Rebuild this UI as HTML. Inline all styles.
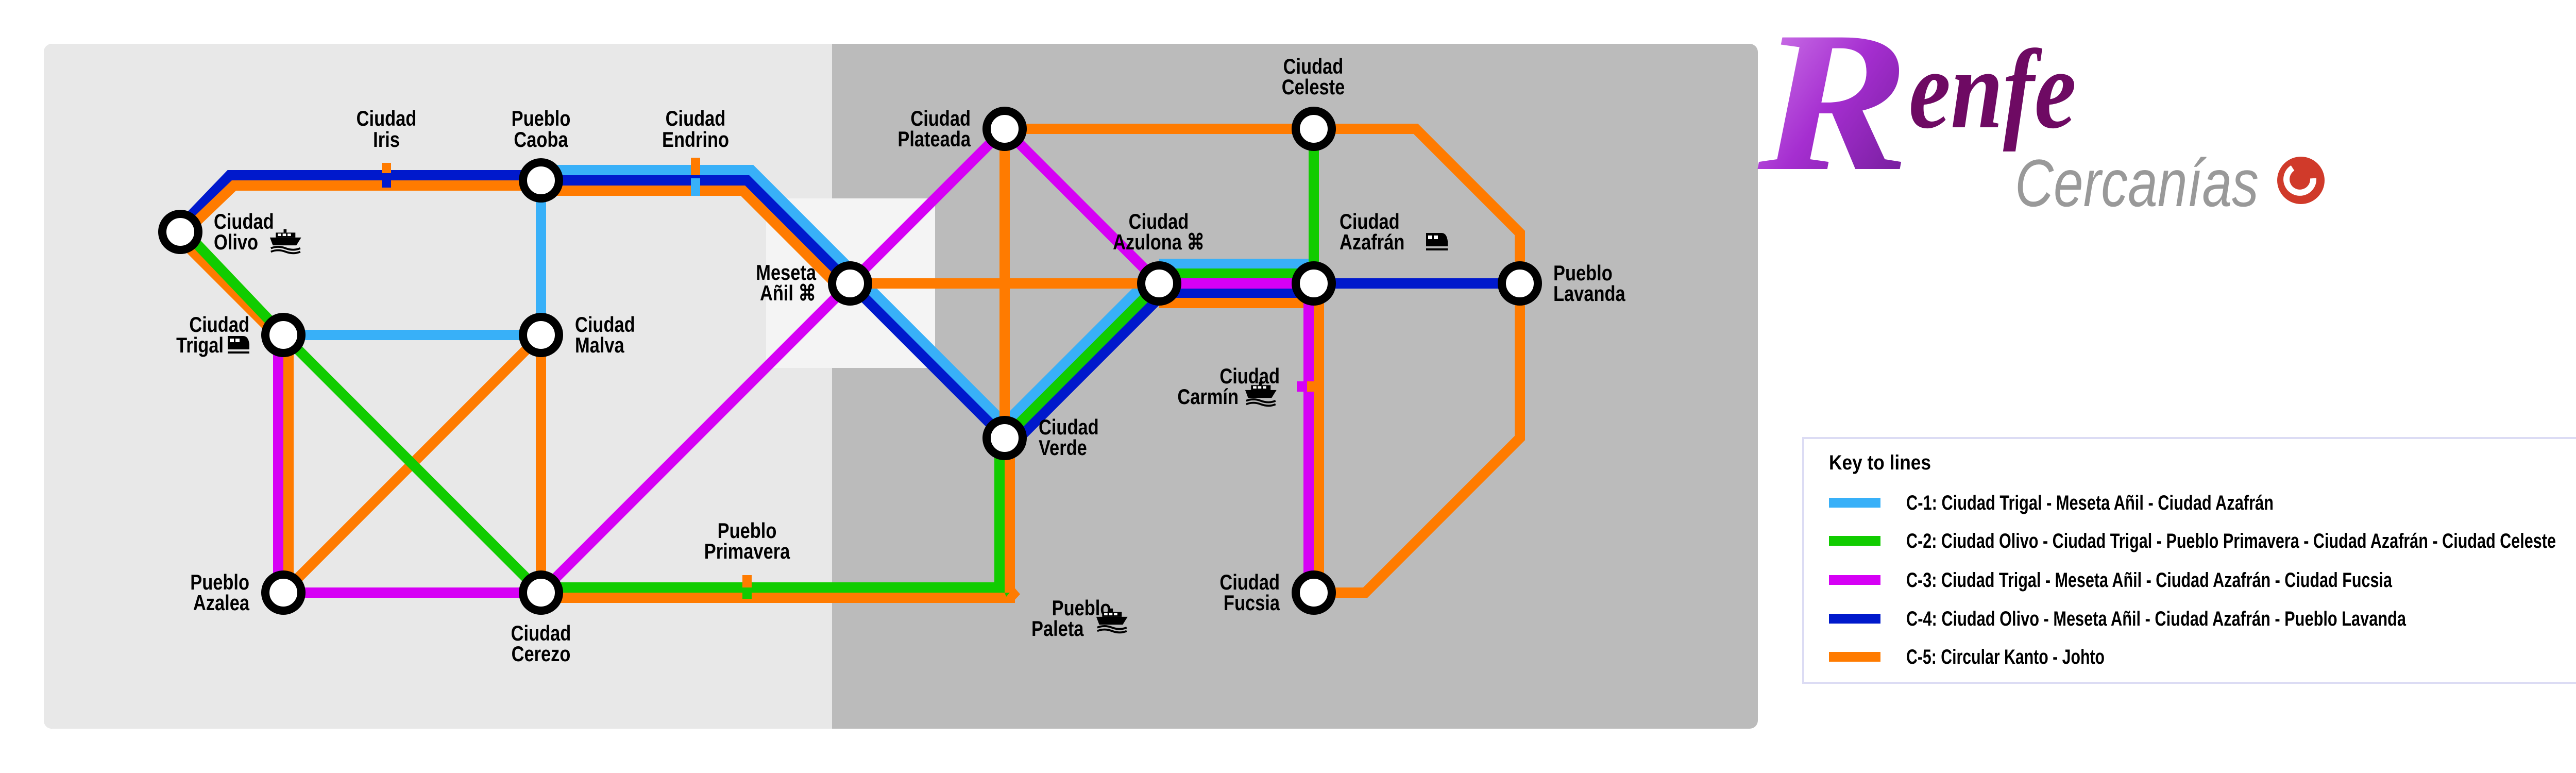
<!DOCTYPE html>
<html><head><meta charset="utf-8"><style>
html,body{margin:0;padding:0;background:#fff;width:5300px;height:1500px;overflow:hidden;}
svg{display:block;}
.t text,.k text{font-family:"Liberation Sans",sans-serif;font-weight:bold;fill:#000;}
.t text{font-size:42px;}
.k text{font-size:40px;}
</style></head><body>
<svg width="5300" height="1500" viewBox="0 0 5300 1500" xmlns="http://www.w3.org/2000/svg">
<defs>
<g id="ship"><path d="M2 22 L66 22 L56 38 L8 38 Z" fill="#000"/><rect x="14" y="12" width="40" height="10" fill="#000"/><rect x="18" y="14" width="7" height="5" fill="#fff"/><rect x="28" y="14" width="7" height="5" fill="#fff"/><rect x="38" y="14" width="7" height="5" fill="#fff"/><rect x="30" y="5" width="6" height="7" fill="#000"/><path d="M4 44 Q18 38 34 44 T64 44" stroke="#000" stroke-width="4" fill="none"/><path d="M4 51 Q18 45 34 51 T64 51" stroke="#000" stroke-width="4" fill="none"/></g>
<g id="train"><path d="M0 4 L30 4 Q40 4 42 20 L42 30 L0 30 Z" fill="#000"/><rect x="4" y="9" width="8" height="7" fill="#fff"/><rect x="15" y="9" width="8" height="7" fill="#fff"/><rect x="0" y="34" width="42" height="4" fill="#000"/></g>
<linearGradient id="pg" x1="0" y1="0" x2="1" y2="1"><stop offset="0" stop-color="#d98cf0"/><stop offset="0.5" stop-color="#a52ed0"/><stop offset="1" stop-color="#6a1a90"/></linearGradient>
</defs>
<rect x="85" y="85" width="3327" height="1329" rx="16" fill="#bbbbbb"/>
<rect x="85" y="85" width="1546" height="1329" rx="16" fill="#e8e8e8"/>
<rect x="1615" y="85" width="40" height="1329" fill="#bbbbbb"/>
<rect x="1487" y="385" width="328" height="329" fill="#f4f4f4"/>

<g fill="none" stroke-width="20" stroke-linejoin="miter">
<polyline stroke="#38b0f8" points="1050,330 1458,330 1972,844"/>
<line stroke="#38b0f8" x1="1050" y1="350" x2="1050" y2="650"/>
<line stroke="#38b0f8" x1="550" y1="650" x2="1050" y2="650"/>
<line stroke="#38b0f8" x1="2250" y1="512" x2="2550" y2="512"/>
<line stroke="#38b0f8" x1="2236" y1="536" x2="1936" y2="836"/>
<polyline stroke="#0019cc" points="345,445 446,340 1050,340 1050,350 1450,350 1950,850"/>
<line stroke="#0019cc" x1="2250" y1="569" x2="2550" y2="569"/>
<line stroke="#0019cc" x1="2264" y1="564" x2="1964" y2="864"/>
<line stroke="#0019cc" x1="2550" y1="550" x2="2950" y2="550"/>
<polyline stroke="#ff7b00" points="355,455 454,360 1050,360 1050,370 1442,370 1650,578"/>
<line stroke="#ff7b00" x1="343" y1="457" x2="560" y2="674"/>
<line stroke="#ff7b00" x1="560" y1="650" x2="560" y2="1150"/>
<line stroke="#ff7b00" x1="550" y1="1150" x2="1050" y2="650"/>
<line stroke="#ff7b00" x1="1050" y1="650" x2="1050" y2="1150"/>
<polyline stroke="#ff7b00" points="1050,1160 1950,1160"/>
<line stroke="#ff7b00" x1="1650" y1="550" x2="2250" y2="550"/>
<line stroke="#ff7b00" x1="1950" y1="250" x2="1950" y2="850"/>
<polyline stroke="#ff7b00" points="1950,250 2748,250 2950,452 2950,850 2650,1150 2550,1150"/>
<line stroke="#ff7b00" x1="2250" y1="588" x2="2550" y2="588"/>
<line stroke="#ff7b00" x1="2560" y1="578" x2="2560" y2="1150"/>
<line stroke="#ff7b00" x1="1960" y1="850" x2="1960" y2="1150"/>
<polyline stroke="#11cc00" points="355,445 550,650 1050,1150"/>
<polyline stroke="#11cc00" points="1050,1140 1940,1140 1940,850"/>
<line stroke="#11cc00" x1="2250" y1="531" x2="2550" y2="531"/>
<line stroke="#11cc00" x1="2250" y1="550" x2="1950" y2="850"/>
<line stroke="#11cc00" x1="2550" y1="250" x2="2550" y2="540"/>
<line stroke="#d600f5" x1="540" y1="650" x2="540" y2="1150"/>
<line stroke="#d600f5" x1="550" y1="1150" x2="1050" y2="1150"/>
<line stroke="#d600f5" x1="1050" y1="1150" x2="1950" y2="250"/>
<line stroke="#d600f5" x1="1950" y1="250" x2="2250" y2="550"/>
<line stroke="#d600f5" x1="2250" y1="550" x2="2550" y2="550"/>
<line stroke="#d600f5" x1="2540" y1="560" x2="2540" y2="1150"/>
</g>
<polygon points="1953,1153 1967,1138 1980,1153 1966,1168" fill="#ff7b00"/>
<rect x="1950" y="1150" width="20" height="20" fill="#ff7b00"/>
<polygon points="1950,1150 1960,1150 1953,1158" fill="#11cc00"/>
<rect x="741" y="316" width="18" height="20" fill="#ff7b00"/><rect x="741" y="336" width="18" height="28" fill="#0019cc"/>
<rect x="1341" y="306" width="18" height="34" fill="#ff7b00"/><rect x="1341" y="346" width="18" height="34" fill="#38b0f8"/>
<rect x="1441" y="1116" width="18" height="24" fill="#ff7b00"/><rect x="1441" y="1140" width="18" height="22" fill="#11cc00"/>
<rect x="2517" y="740" width="20" height="20" fill="#d600f5"/><rect x="2537" y="740" width="32" height="20" fill="#ff7b00"/>

<g fill="#fff" stroke="#000" stroke-width="16">
<circle cx="350" cy="450" r="35"/><circle cx="550" cy="650" r="35"/><circle cx="1050" cy="350" r="35"/>
<circle cx="1050" cy="650" r="35"/><circle cx="550" cy="1150" r="35"/><circle cx="1050" cy="1150" r="35"/>
<circle cx="1650" cy="550" r="35"/><circle cx="1950" cy="250" r="35"/><circle cx="2550" cy="250" r="35"/>
<circle cx="2250" cy="550" r="35"/><circle cx="2550" cy="550" r="35"/><circle cx="2950" cy="550" r="35"/>
<circle cx="1950" cy="850" r="35"/><circle cx="2550" cy="1150" r="35"/>
</g>

<g class="t">
<text transform="translate(750,244) scale(0.82,1)" text-anchor="middle">Ciudad</text><text transform="translate(750,285) scale(0.82,1)" text-anchor="middle">Iris</text>
<text transform="translate(1050,244) scale(0.82,1)" text-anchor="middle">Pueblo</text><text transform="translate(1050,285) scale(0.82,1)" text-anchor="middle">Caoba</text>
<text transform="translate(1350,244) scale(0.82,1)" text-anchor="middle">Ciudad</text><text transform="translate(1350,285) scale(0.82,1)" text-anchor="middle">Endrino</text>
<text transform="translate(415,444) scale(0.82,1)">Ciudad</text><text transform="translate(415,484) scale(0.82,1)">Olivo</text>
<text transform="translate(484,644) scale(0.82,1)" text-anchor="end">Ciudad</text><text transform="translate(434,684) scale(0.82,1)" text-anchor="end">Trigal</text>
<text transform="translate(1116,644) scale(0.82,1)">Ciudad</text><text transform="translate(1116,684) scale(0.82,1)">Malva</text>
<text transform="translate(484,1144) scale(0.82,1)" text-anchor="end">Pueblo</text><text transform="translate(484,1184) scale(0.82,1)" text-anchor="end">Azalea</text>
<text transform="translate(1050,1243) scale(0.82,1)" text-anchor="middle">Ciudad</text><text transform="translate(1050,1283) scale(0.82,1)" text-anchor="middle">Cerezo</text>
<text transform="translate(1450,1044) scale(0.82,1)" text-anchor="middle">Pueblo</text><text transform="translate(1450,1084) scale(0.82,1)" text-anchor="middle">Primavera</text>
<text transform="translate(1584,543) scale(0.82,1)" text-anchor="end">Meseta</text><text transform="translate(1584,583) scale(0.82,1)" text-anchor="end">Añil ⌘</text>
<text transform="translate(1884,244) scale(0.82,1)" text-anchor="end">Ciudad</text><text transform="translate(1884,284) scale(0.82,1)" text-anchor="end">Plateada</text>
<text transform="translate(2549,143) scale(0.82,1)" text-anchor="middle">Ciudad</text><text transform="translate(2549,183) scale(0.82,1)" text-anchor="middle">Celeste</text>
<text transform="translate(2249,444) scale(0.82,1)" text-anchor="middle">Ciudad</text><text transform="translate(2249,484) scale(0.82,1)" text-anchor="middle">Azulona ⌘</text>
<text transform="translate(2600,444) scale(0.82,1)">Ciudad</text><text transform="translate(2600,484) scale(0.82,1)">Azafrán</text>
<text transform="translate(3015,544) scale(0.82,1)">Pueblo</text><text transform="translate(3015,584) scale(0.82,1)">Lavanda</text>
<text transform="translate(2016,843) scale(0.82,1)">Ciudad</text><text transform="translate(2016,883) scale(0.82,1)">Verde</text>
<text transform="translate(2484,744) scale(0.82,1)" text-anchor="end">Ciudad</text><text transform="translate(2404,784) scale(0.82,1)" text-anchor="end">Carmín</text>
<text transform="translate(2099,1194) scale(0.82,1)" text-anchor="middle">Pueblo</text><text transform="translate(2002,1234) scale(0.82,1)">Paleta</text>
<text transform="translate(2484,1144) scale(0.82,1)" text-anchor="end">Ciudad</text><text transform="translate(2484,1184) scale(0.82,1)" text-anchor="end">Fucsia</text>
</g>
<use href="#ship" transform="translate(522,440) scale(0.95)"/>
<use href="#train" transform="translate(442,648)"/>
<use href="#train" transform="translate(2768,448)"/>
<use href="#ship" transform="translate(2415,736) scale(0.95)"/>
<use href="#ship" transform="translate(2126,1176) scale(0.95)"/>

<text x="3412" y="328" font-family="Liberation Serif,serif" font-weight="bold" font-style="italic" font-size="390" fill="url(#pg)" textLength="295" lengthAdjust="spacingAndGlyphs">R</text>
<text x="3705" y="247" font-family="Liberation Serif,serif" font-weight="bold" font-style="italic" font-size="220" fill="#6e0a63" textLength="325" lengthAdjust="spacingAndGlyphs">enfe</text>
<text x="3911" y="400" font-family="Liberation Sans,sans-serif" font-style="italic" font-size="130" fill="#999" textLength="473" lengthAdjust="spacingAndGlyphs">Cercanías</text>
<circle cx="4466" cy="350" r="46" fill="#d03a2a"/>
<path d="M4450 326 A26 26 0 1 0 4490 346" stroke="#fff" stroke-width="12" fill="none"/>
<circle cx="4466" cy="350" r="9" fill="#d03a2a"/>

<rect x="3500" y="850" width="1700" height="475" fill="#fff" stroke="#dcdcf4" stroke-width="4"/>
<g class="k">
<text x="3550" y="911" textLength="198" lengthAdjust="spacingAndGlyphs">Key to lines</text>
<text x="3700" y="989" textLength="713" lengthAdjust="spacingAndGlyphs">C-1: Ciudad Trigal - Meseta Añil - Ciudad Azafrán</text>
<text x="3700" y="1063" textLength="1261" lengthAdjust="spacingAndGlyphs">C-2: Ciudad Olivo - Ciudad Trigal - Pueblo Primavera - Ciudad Azafrán - Ciudad Celeste</text>
<text x="3700" y="1139" textLength="943" lengthAdjust="spacingAndGlyphs">C-3: Ciudad Trigal - Meseta Añil - Ciudad Azafrán - Ciudad Fucsia</text>
<text x="3700" y="1214" textLength="970" lengthAdjust="spacingAndGlyphs">C-4: Ciudad Olivo - Meseta Añil - Ciudad Azafrán - Pueblo Lavanda</text>
<text x="3700" y="1288" textLength="385" lengthAdjust="spacingAndGlyphs">C-5: Circular Kanto - Johto</text>
</g>
<rect x="3550" y="966" width="100" height="19" fill="#38b0f8"/>
<rect x="3550" y="1040" width="100" height="19" fill="#11cc00"/>
<rect x="3550" y="1116" width="100" height="19" fill="#d600f5"/>
<rect x="3550" y="1191" width="100" height="19" fill="#0019cc"/>
<rect x="3550" y="1265" width="100" height="19" fill="#ff7b00"/>
</svg>
</body></html>
